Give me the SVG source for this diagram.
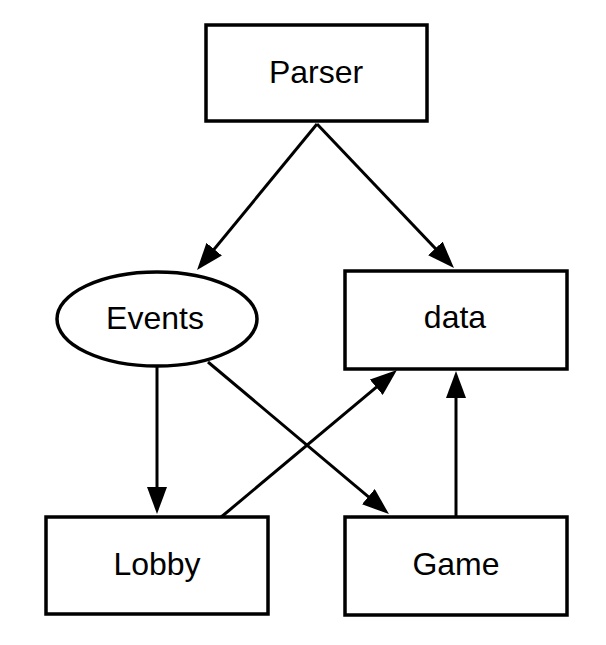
<svg xmlns="http://www.w3.org/2000/svg" width="606" height="645" viewBox="0 0 606 645">
<style>
  .node { fill: #ffffff; stroke: #000000; stroke-width: 3.5; }
  .label { font-family: "Liberation Sans", Arial, sans-serif; font-size: 32px; fill: #000000; text-anchor: middle; }
  .edge { fill: none; stroke: #000000; stroke-width: 3; marker-end: url(#arrow); }
</style>
<defs>
  <marker id="arrow" markerUnits="userSpaceOnUse" markerWidth="27" markerHeight="20" refX="17" refY="10" orient="auto">
    <path d="M0,0 L27,10 L0,20 z" fill="#000000"/>
  </marker>
</defs>
<rect width="606" height="645" fill="#ffffff"/>
<g id="connectors">
  <line class="edge" x1="317" y1="124" x2="203.4" y2="262.3"/>
  <line class="edge" x1="317" y1="124" x2="447.1" y2="260.8"/>
  <line class="edge" x1="157" y1="366" x2="157" y2="504"/>
  <line class="edge" x1="208" y1="362" x2="381.3" y2="507.6"/>
  <line class="edge" x1="220" y1="518" x2="389.3" y2="376.4"/>
  <line class="edge" x1="456" y1="516" x2="456" y2="381"/>
</g>
<g id="parser">
  <rect class="node" x="206" y="25" width="221" height="96"/>
  <text class="label" x="316" y="83">Parser</text>
</g>
<g id="events">
  <ellipse class="node" cx="157" cy="319" rx="100" ry="47"/>
  <text class="label" x="155" y="329">Events</text>
</g>
<g id="data">
  <rect class="node" x="345" y="271" width="222" height="98"/>
  <text class="label" x="455" y="328">data</text>
</g>
<g id="lobby">
  <rect class="node" x="46" y="517" width="222" height="97"/>
  <text class="label" x="157" y="575">Lobby</text>
</g>
<g id="game">
  <rect class="node" x="345" y="517" width="222" height="98"/>
  <text class="label" x="456" y="575">Game</text>
</g>
</svg>
